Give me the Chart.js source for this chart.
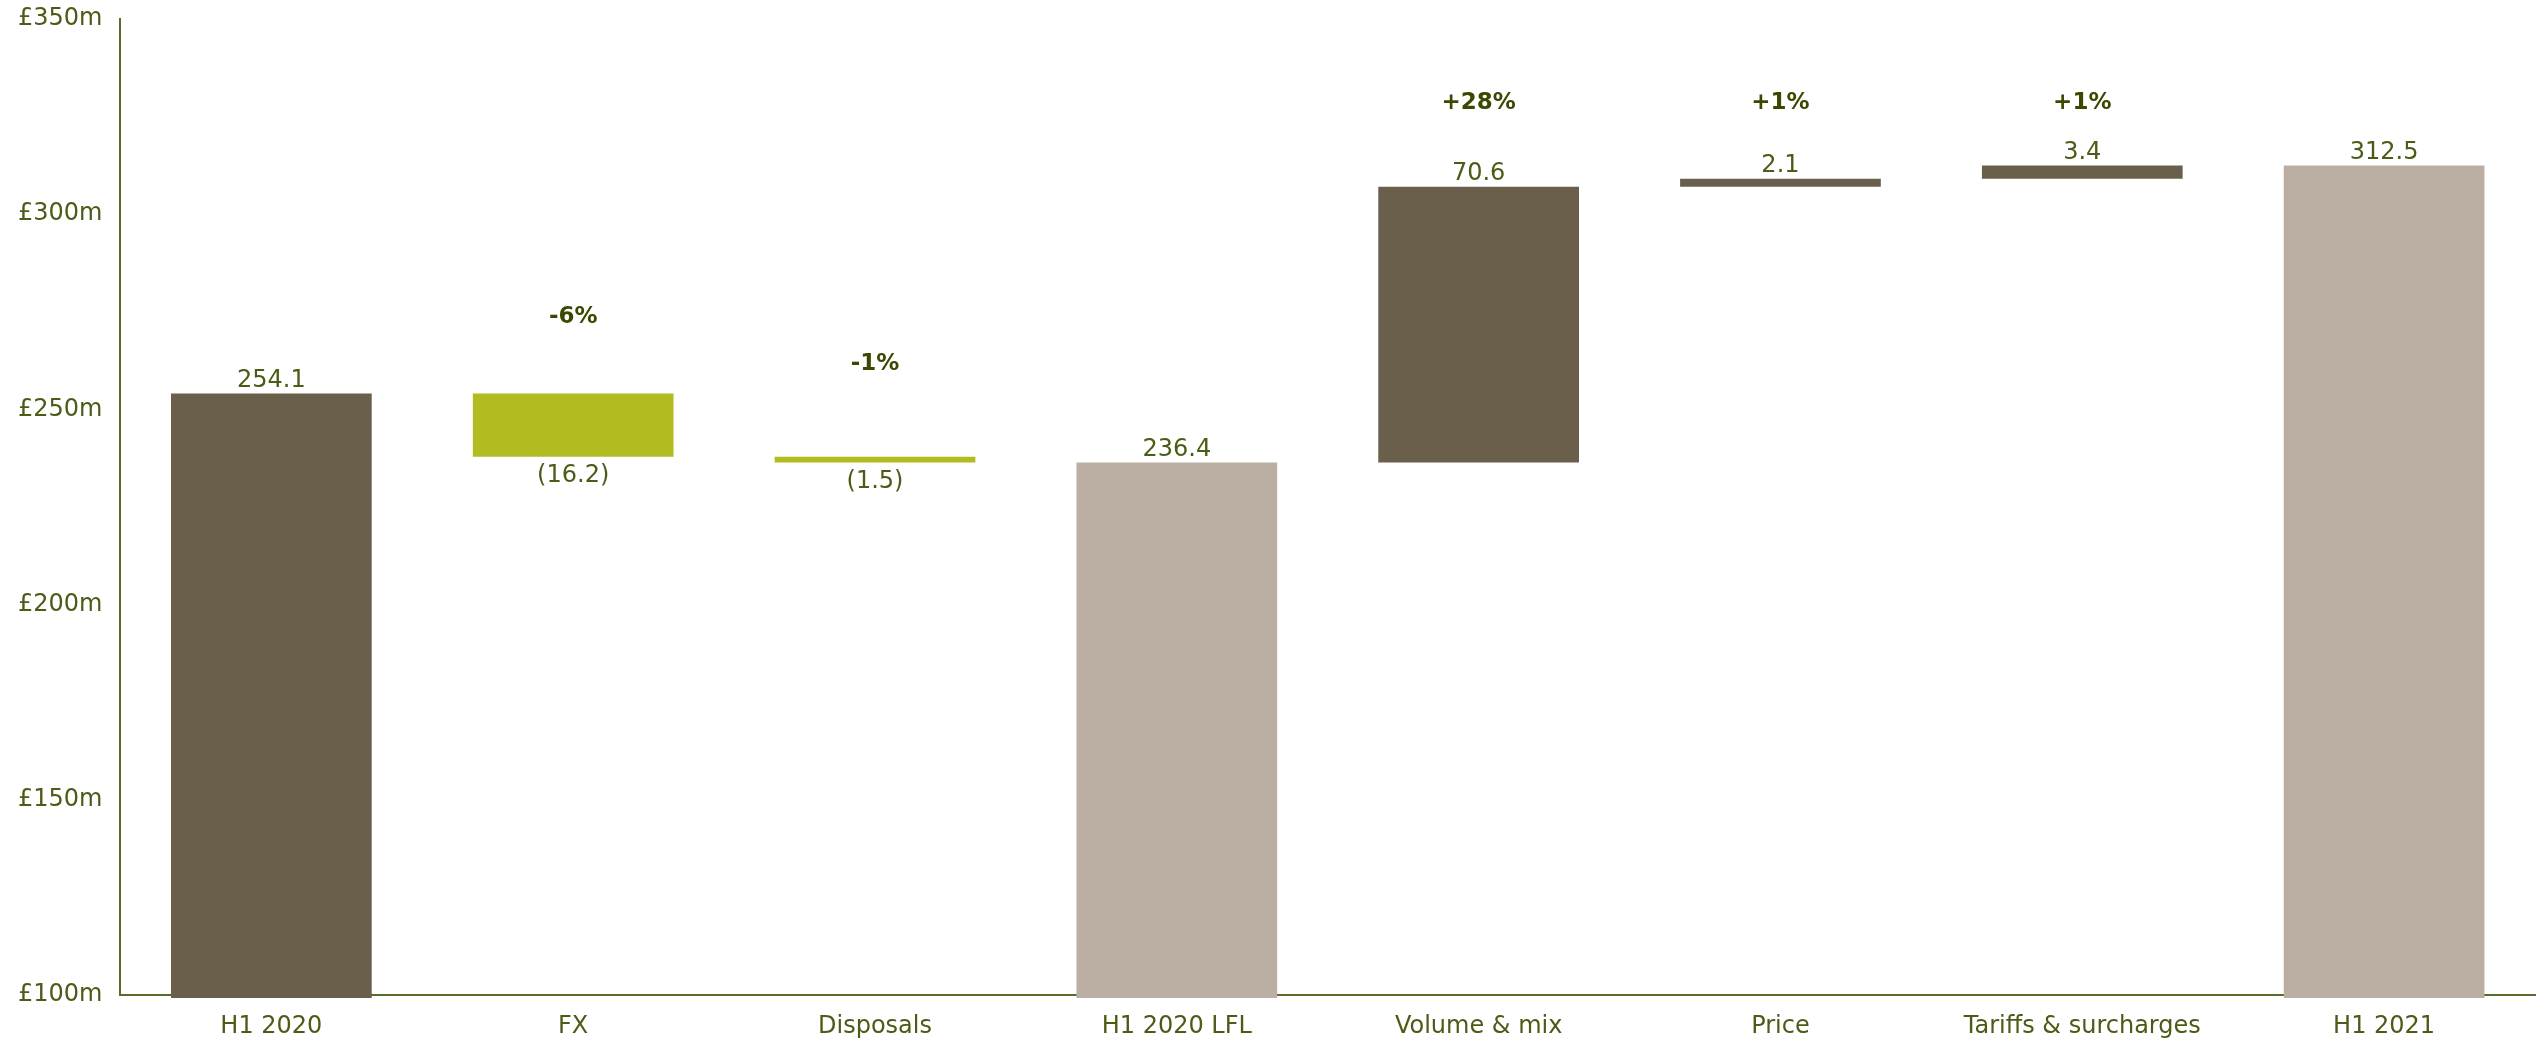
<!DOCTYPE html>
<html>
<head>
<meta charset="utf-8">
<script src="https://cdn.jsdelivr.net/npm/chart.js@4"></script>
<style>
  body { margin: 0; background: #ffffff; }
  #wrap { width: 2543px; height: 1044px; }
</style>
</head>
<body>
<div id="wrap"><canvas id="bridgeChart"></canvas></div>
<script>
"use strict";

// revenue bridge H1 2020 -> H1 2021 (£m)
const categories = ['H1 2020', 'FX', 'Disposals', 'H1 2020 LFL', 'Volume & mix', 'Price', 'Tariffs & surcharges', 'H1 2021'];
const amounts = [254.1, -16.2, -1.5, 236.4, 70.6, 2.1, 3.4, 312.5];
const kinds = ['start', 'down', 'down', 'subtotal', 'up', 'up', 'up', 'subtotal'];
const pctLabels = ['', '-6%', '-1%', '', '+28%', '+1%', '+1%', ''];
const yTicks = [100, 150, 200, 250, 300, 350];

const DARK = '#6a5f4b';
const LIGHT = '#bbafa3';
const GREEN = '#b2bb1f';
const TEXT = '#4a5c16';
const BOLD = '#3a4900';
const AXIS = '#5b6b2b';

// build floating ranges from the running total
let running = 0;
const ranges = amounts.map(function (v, i) {
  if (kinds[i] === 'start' || kinds[i] === 'subtotal') {
    running = v;
    return [0, v];
  }
  const from = running;
  running = running + v;
  return [from, running];
});

const colours = kinds.map(function (k) {
  if (k === 'subtotal') return LIGHT;
  if (k === 'down') return GREEN;
  return DARK;
});

// where the bold percentage notes sit, in £m
const pctAnchor = [null, 273.7, 261.5, null, 328.5, 328.5, 328.5, null];

const labelPlugin = {
  id: 'bridgeLabels',
  afterDatasetsDraw(chart) {
    const c = chart.ctx;
    const y = chart.scales.y;
    const meta = chart.getDatasetMeta(0);
    c.save();
    c.textAlign = 'center';
    meta.data.forEach(function (bar, i) {
      const v = amounts[i];
      c.font = '24px "DejaVu Sans", Verdana, sans-serif';
      c.fillStyle = TEXT;
      if (v < 0) {
        const bottom = Math.max(bar.y, bar.base);
        c.textBaseline = 'top';
        c.fillText('(' + Math.abs(v).toFixed(1) + ')', bar.x, bottom + 7);
      } else {
        const top = Math.min(bar.y, bar.base);
        c.textBaseline = 'bottom';
        c.fillText(v.toFixed(1), bar.x, top - 1);
      }
      if (pctLabels[i]) {
        c.font = 'bold 23px "DejaVu Sans", Verdana, sans-serif';
        c.fillStyle = BOLD;
        c.textBaseline = 'middle';
        c.fillText(pctLabels[i], bar.x, y.getPixelForValue(pctAnchor[i]));
      }
    });
    c.restore();
  }
};

const ctx = document.getElementById('bridgeChart').getContext('2d');

const config = {
  type: 'bar',
  data: {
    labels: categories,
    datasets: [{
      data: ranges,
      backgroundColor: colours,
      borderWidth: 0,
      borderSkipped: false,
      barPercentage: 0.665,
      categoryPercentage: 1,
      clip: { left: 0, right: 0, top: 0, bottom: 3 }
    }]
  },
  options: {
    responsive: true,
    maintainAspectRatio: false,
    animation: false,
    layout: { padding: { top: 0, right: 8, left: 0, bottom: 0 } },
    plugins: {
      legend: { display: false },
      tooltip: { enabled: false }
    },
    scales: {
      x: {
        grid: { display: false, drawTicks: false },
        border: { display: true, color: AXIS, width: 2 },
        ticks: {
          color: TEXT,
          padding: 17,
          font: { family: '"DejaVu Sans", Verdana, sans-serif', size: 24 }
        },
        afterFit: function (scale) {
          scale.height = 49;
        }
      },
      y: {
        min: 100,
        max: 350,
        afterBuildTicks: function (axis) {
          axis.ticks = yTicks.map(function (v) { return { value: v }; });
        },
        afterFit: function (scale) {
          scale.paddingTop = 19;
          scale.paddingBottom = 14;
        },
        grid: { display: false, drawTicks: false },
        border: { display: true, color: AXIS, width: 2 },
        ticks: {
          color: TEXT,
          padding: 18,
          font: { family: '"DejaVu Sans", Verdana, sans-serif', size: 24 },
          callback: function (value) {
            return '£' + value + 'm';
          }
        }
      }
    }
  },
  plugins: [labelPlugin]
};

const bridgeChart = new Chart(ctx, config);
</script>
</body>
</html>
